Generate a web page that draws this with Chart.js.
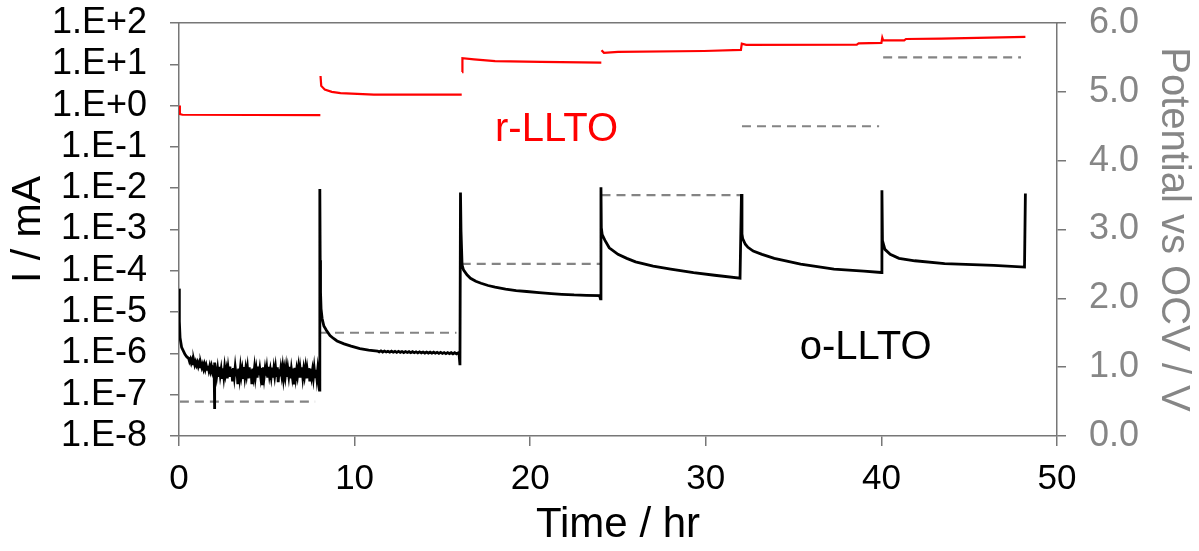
<!DOCTYPE html>
<html lang="en">
<head>
<meta charset="UTF-8">
<title>Current vs time - o-LLTO / r-LLTO</title>
<script src="https://cdn.jsdelivr.net/npm/chart.js"></script>
<style>
  body { margin: 0; background: #fff; }
  #wrap { width: 1199px; height: 551px; position: relative; }
</style>
</head>
<body>
<div id="wrap"><canvas id="chart"></canvas></div>
<script>
// o-LLTO current (mA) vs time (hr), one block per 8 h potential step
const seg1Time = [
  0, 0.02, 0.06, 0.15, 0.34, 0.45,
  0.55, 0.6, 0.65, 0.7, 0.75, 0.8, 0.85, 0.9, 0.95, 1.0, 1.05, 1.1, 1.15, 1.2, 1.25, 1.3, 1.35, 1.4, 1.45, 1.5,
  1.55, 1.6, 1.65, 1.7, 1.75, 1.8, 1.85, 1.9, 1.95, 2.0, 2.02, 2.04, 2.08,
  2.1, 2.15, 2.2, 2.25, 2.3, 2.35, 2.4, 2.45, 2.5, 2.55,
  2.6, 2.65, 2.7, 2.75, 2.8, 2.85, 2.9, 2.95, 3.0, 3.05,
  3.1, 3.15, 3.2, 3.25, 3.3, 3.35, 3.4, 3.45, 3.5, 3.55,
  3.6, 3.65, 3.7, 3.75, 3.8, 3.85, 3.9, 3.95, 4.0, 4.05,
  4.1, 4.15, 4.2, 4.25, 4.3, 4.35, 4.4, 4.45, 4.5, 4.55,
  4.6, 4.65, 4.7, 4.75, 4.8, 4.85, 4.9, 4.95, 5.0, 5.05,
  5.1, 5.15, 5.2, 5.25, 5.3, 5.35, 5.4, 5.45, 5.5, 5.55,
  5.6, 5.65, 5.7, 5.75, 5.8, 5.85, 5.9, 5.95, 6.0, 6.05,
  6.1, 6.15, 6.2, 6.25, 6.3, 6.35, 6.4, 6.45, 6.5, 6.55,
  6.6, 6.65, 6.7, 6.75, 6.8, 6.85, 6.9, 6.95, 7.0, 7.05,
  7.1, 7.15, 7.2, 7.25, 7.3, 7.35, 7.4, 7.45, 7.5, 7.55,
  7.6, 7.65, 7.7, 7.75, 7.8, 7.85, 7.9, 7.95, 8.0
];
const seg1Current = [
  3.7e-5, 6e-6, 2.4e-6, 1.4e-6, 9.5e-7, 8.2e-7,
  7.6e-7, 6.4e-7, 7.2e-7, 5.9e-7, 6.9e-7, 5.6e-7, 6.6e-7, 5.3e-7, 6.2e-7, 5.2e-7, 6.0e-7, 4.9e-7, 5.8e-7, 4.7e-7, 5.6e-7, 4.6e-7, 5.4e-7, 4.3e-7, 5.3e-7, 4.2e-7,
  5.1e-7, 4.1e-7, 5.0e-7, 3.9e-7, 4.9e-7, 3.8e-7, 4.8e-7, 3.7e-7, 4.6e-7, 4.4e-7, 4.5e-8, 6.0e-7, 3.5e-7,
  4.5e-7, 2.9e-7, 4.2e-7, 2.7e-7, 4.7e-7, 3.0e-7, 4.1e-7, 2.6e-7, 4.4e-7, 2.8e-7,
  4.6e-7, 3.1e-7, 4.0e-7, 2.5e-7, 4.3e-7, 2.9e-7, 4.8e-7, 2.7e-7, 4.2e-7, 2.1e-7,
  4.4e-7, 2.8e-7, 4.6e-7, 3.0e-7, 4.1e-7, 1.8e-7, 4.3e-7, 2.7e-7, 4.5e-7, 2.9e-7,
  4.0e-7, 2.6e-7, 4.7e-7, 2.8e-7, 4.2e-7, 3.0e-7, 4.4e-7, 2.5e-7, 4.6e-7, 2.8e-7,
  4.1e-7, 1.8e-7, 4.3e-7, 2.9e-7, 4.5e-7, 2.7e-7, 4.0e-7, 2.6e-7, 4.8e-7, 3.0e-7,
  4.2e-7, 2.8e-7, 4.4e-7, 1.7e-7, 4.6e-7, 2.7e-7, 4.1e-7, 2.9e-7, 4.3e-7, 2.6e-7,
  4.7e-7, 3.0e-7, 4.0e-7, 2.8e-7, 4.5e-7, 2.6e-7, 4.2e-7, 2.9e-7, 4.4e-7, 2.7e-7,
  4.6e-7, 2.0e-7, 4.1e-7, 2.8e-7, 4.3e-7, 3.0e-7, 4.5e-7, 2.6e-7, 4.0e-7, 2.8e-7,
  4.4e-7, 2.7e-7, 4.2e-7, 2.9e-7, 4.7e-7, 2.5e-7, 4.1e-7, 2.8e-7, 4.3e-7, 1.9e-7,
  4.5e-7, 2.7e-7, 4.0e-7, 2.9e-7, 4.4e-7, 2.6e-7, 4.2e-7, 2.8e-7, 4.6e-7, 2.7e-7,
  4.1e-7, 2.9e-7, 4.3e-7, 2.5e-7, 4.0e-7, 2.7e-7, 4.4e-7, 2.1e-7, 4.2e-7, 2.8e-7,
  3.9e-7, 2.6e-7, 4.3e-7, 2.7e-7, 4.0e-7, 2.5e-7, 4.1e-7, 2.6e-7, 1.3e-7
];
const seg2Time = [
  8.02, 8.04, 8.06, 8.09, 8.15, 8.25, 8.4, 8.6, 8.8, 9.0, 9.4, 9.8, 10.3, 10.8,
  11.3, 11.4, 11.5, 11.6, 11.7, 11.8, 11.9, 12.0, 12.1, 12.2,
  12.3, 12.4, 12.5, 12.6, 12.7, 12.8, 12.9, 13.0, 13.1, 13.2,
  13.3, 13.4, 13.5, 13.6, 13.7, 13.8, 13.9, 14.0, 14.1, 14.2,
  14.3, 14.4, 14.5, 14.6, 14.7, 14.8, 14.9, 15.0, 15.1, 15.2,
  15.3, 15.4, 15.5, 15.6, 15.7, 15.8, 15.9, 15.95, 16.0
];
const seg2Current = [
  9.5e-3, 1.8e-4, 3.0e-5, 1.2e-5, 7.0e-6, 4.6e-6, 3.6e-6, 2.7e-6, 2.3e-6, 2.0e-6, 1.7e-6, 1.5e-6, 1.3e-6, 1.2e-6,
  1.14e-6, 1.09e-6, 1.15e-6, 1.08e-6, 1.14e-6, 1.08e-6, 1.13e-6, 1.07e-6, 1.13e-6, 1.07e-6,
  1.12e-6, 1.06e-6, 1.12e-6, 1.06e-6, 1.11e-6, 1.05e-6, 1.11e-6, 1.05e-6, 1.10e-6, 1.04e-6,
  1.10e-6, 1.04e-6, 1.09e-6, 1.03e-6, 1.09e-6, 1.03e-6, 1.08e-6, 1.02e-6, 1.08e-6, 1.02e-6,
  1.07e-6, 1.01e-6, 1.07e-6, 1.01e-6, 1.06e-6, 1.00e-6, 1.06e-6, 1.00e-6, 1.05e-6, 0.99e-6,
  1.05e-6, 0.99e-6, 1.04e-6, 0.98e-6, 1.04e-6, 0.97e-6, 1.03e-6, 0.95e-6, 5.2e-7
];
const seg3Time = [16.03, 16.06, 16.12, 16.2, 16.4, 16.6, 16.9, 17.2, 17.6, 18.0, 18.6, 19.2, 19.8, 20.5, 21.2, 21.8, 22.5, 23.2, 23.95, 24.0];
const seg3Current = [7.9e-3, 9.0e-4, 1.4e-4, 1.05e-4, 8.0e-5, 6.6e-5, 5.6e-5, 5.0e-5, 4.4e-5, 4.0e-5, 3.6e-5, 3.3e-5, 3.15e-5, 2.95e-5, 2.8e-5, 2.7e-5, 2.6e-5, 2.55e-5, 2.5e-5, 2.1e-5];
const seg4Time = [24.03, 24.05, 24.1, 24.25, 24.5, 25.0, 25.5, 26.0, 27.0, 28.0, 29.3, 30.5, 31.95];
const seg4Current = [1.05e-2, 1.1e-3, 7.5e-4, 5.5e-4, 3.6e-4, 2.5e-4, 2.0e-4, 1.65e-4, 1.3e-4, 1.1e-4, 9.0e-5, 7.8e-5, 6.6e-5];
const seg5Time = [32.03, 32.06, 32.1, 32.25, 32.4, 32.7, 33.2, 33.9, 35.4, 37.3, 39.0, 40.0];
const seg5Current = [7.2e-3, 7.8e-4, 6.0e-4, 4.4e-4, 3.7e-4, 3.0e-4, 2.5e-4, 2.0e-4, 1.45e-4, 1.1e-4, 9.8e-5, 9.1e-5];
const seg6Time = [40.03, 40.06, 40.2, 40.5, 41.0, 41.9, 43.6, 46.4, 48.15, 48.2];
const seg6Current = [8.9e-3, 5.4e-4, 3.3e-4, 2.5e-4, 2.0e-4, 1.75e-4, 1.5e-4, 1.35e-4, 1.23e-4, 7.4e-3];

// r-LLTO current (mA); null marks where the record restarts
const rTime = [
  0, 0.05, 0.2, 8.05, 8.055, 8.06, 8.1, 8.3, 8.7, 9.2, 11.1, 16.1, 16.11, 16.12, 16.14, 16.8, 18.0, 20.6, 24.05, 24.055,
  24.06, 24.2, 25.0, 29.9, 32.0, 32.05, 32.3, 38.6, 38.7, 40.0, 40.05, 40.1, 41.3, 41.4, 43.4, 48.2
];
const rCurrent = [
  1.0, 0.62, 0.6, 0.59, null, 5.2, 3.0, 2.45, 2.15, 2.0, 1.85, 1.85, null, 6.5, 14, 13.2, 12, 11.5, 11, null,
  22, 19, 20, 21, 22.4, 31.6, 29.5, 30, 32, 33, 44, 38, 38, 41, 41.7, 46
];

// applied potential steps (V vs OCV)
const stepStart = [0.05, 8.03, 16.1, 24.06, 32.06, 40.1];
const stepEnd = [7.75, 15.8, 24.0, 31.97, 39.87, 47.95];
const stepVolts = [0.5, 1.5, 2.5, 3.5, 4.5, 5.5];

// axis ticks
const currentTicks = [1e-8, 1e-7, 1e-6, 1e-5, 1e-4, 1e-3, 1e-2, 1e-1, 1e0, 1e1, 1e2];
const currentLabels = ['1.E-8', '1.E-7', '1.E-6', '1.E-5', '1.E-4', '1.E-3', '1.E-2', '1.E-1', '1.E+0', '1.E+1', '1.E+2'];

const AXIS = '#777';
const GREY = '#868686';
const RED = '#ff0000';

Chart.defaults.font.family = '"Liberation Sans", Arial, sans-serif';

const oTime = [].concat(seg1Time, seg2Time, seg3Time, seg4Time, seg5Time, seg6Time);
const oCurrent = [].concat(seg1Current, seg2Current, seg3Current, seg4Current, seg5Current, seg6Current);
const oData = oTime.map((t, i) => ({ x: t, y: oCurrent[i] }));
const rData = rTime.map((t, i) => ({ x: t, y: rCurrent[i] }));
const stepData = [];
stepVolts.forEach((v, i) => {
  stepData.push({ x: stepStart[i], y: v }, { x: stepEnd[i], y: v });
  if (i < stepVolts.length - 1) stepData.push({ x: (stepEnd[i] + stepStart[i + 1]) / 2, y: null });
});

const notes = [
  { text: 'r-LLTO', t: 21.5, i: 0.26, color: RED },
  { text: 'o-LLTO', t: 39.1, i: 1.35e-6, color: '#000' }
];

const seriesNotes = {
  id: 'seriesNotes',
  afterDatasetsDraw(chart) {
    const { ctx, scales: { x, y } } = chart;
    ctx.save();
    ctx.font = '40px "Liberation Sans", Arial, sans-serif';
    ctx.textAlign = 'center';
    ctx.textBaseline = 'middle';
    notes.forEach(n => {
      ctx.fillStyle = n.color;
      ctx.fillText(n.text, x.getPixelForValue(n.t), y.getPixelForValue(n.i));
    });
    ctx.restore();
  }
};

// fixed axis boxes so the plot frame lands where it should
const fixWidth = w => s => { s.width = w; s.paddingTop = 0; s.paddingBottom = 0; };

new Chart(document.getElementById('chart'), {
  type: 'line',
  data: {
    datasets: [
      {
        label: 'r-LLTO', data: rData, xAxisID: 'x', yAxisID: 'y', order: 1,
        borderColor: RED, borderWidth: 2.2, pointRadius: 0, tension: 0, spanGaps: false
      },
      {
        label: 'o-LLTO', data: oData, xAxisID: 'x', yAxisID: 'y', order: 2,
        borderColor: '#000', borderWidth: 2.8, pointRadius: 0, tension: 0
      },
      {
        label: 'Potential', data: stepData, xAxisID: 'x', yAxisID: 'y2', order: 3,
        borderColor: '#848484', borderWidth: 2.2, borderDash: [9, 6], pointRadius: 0, tension: 0, spanGaps: false
      }
    ]
  },
  options: {
    responsive: true,
    maintainAspectRatio: false,
    animation: false,
    layout: { padding: 0 },
    plugins: { legend: { display: false }, tooltip: { enabled: false } },
    scales: {
      x: {
        type: 'linear', position: 'bottom', min: 0, max: 50,
        ticks: { stepSize: 10, color: '#000', font: { size: 35 }, padding: 12, maxRotation: 0 },
        grid: { drawOnChartArea: false, tickLength: 10, color: AXIS, lineWidth: 1.5 },
        border: { color: AXIS, width: 1.5 },
        title: { display: true, text: 'Time / hr', color: '#000', font: { size: 42 }, padding: 0 },
        afterFit: s => { s.height = 115; }
      },
      xTop: {
        type: 'linear', position: 'top', min: 0, max: 50,
        ticks: { display: false },
        grid: { display: false },
        border: { color: AXIS, width: 1.5 },
        afterFit: s => { s.height = 23; }
      },
      y: {
        type: 'logarithmic', position: 'left', min: 1e-8, max: 1e2,
        afterBuildTicks: s => { s.ticks = currentTicks.map(v => ({ value: v })); },
        ticks: {
          autoSkip: false, color: '#000', font: { size: 36 }, padding: 23,
          callback: v => currentLabels[currentTicks.indexOf(v)]
        },
        grid: { drawOnChartArea: false, tickLength: 9, color: AXIS, lineWidth: 1.5 },
        border: { color: AXIS, width: 1.5 },
        title: { display: true, text: 'I / mA', color: '#000', font: { size: 41 }, padding: 4 },
        afterFit: fixWidth(179)
      },
      y2: {
        type: 'linear', position: 'right', min: 0, max: 6,
        ticks: { stepSize: 1, autoSkip: false, color: GREY, font: { size: 36 }, padding: 23, callback: v => v.toFixed(1) },
        grid: { drawOnChartArea: false, tickLength: 9, color: AXIS, lineWidth: 1.5 },
        border: { color: AXIS, width: 1.5 },
        title: { display: true, text: 'Potential vs OCV / V', color: GREY, font: { size: 40 }, padding: 2 },
        afterFit: fixWidth(142)
      }
    }
  },
  plugins: [seriesNotes]
});
</script>
</body>
</html>
